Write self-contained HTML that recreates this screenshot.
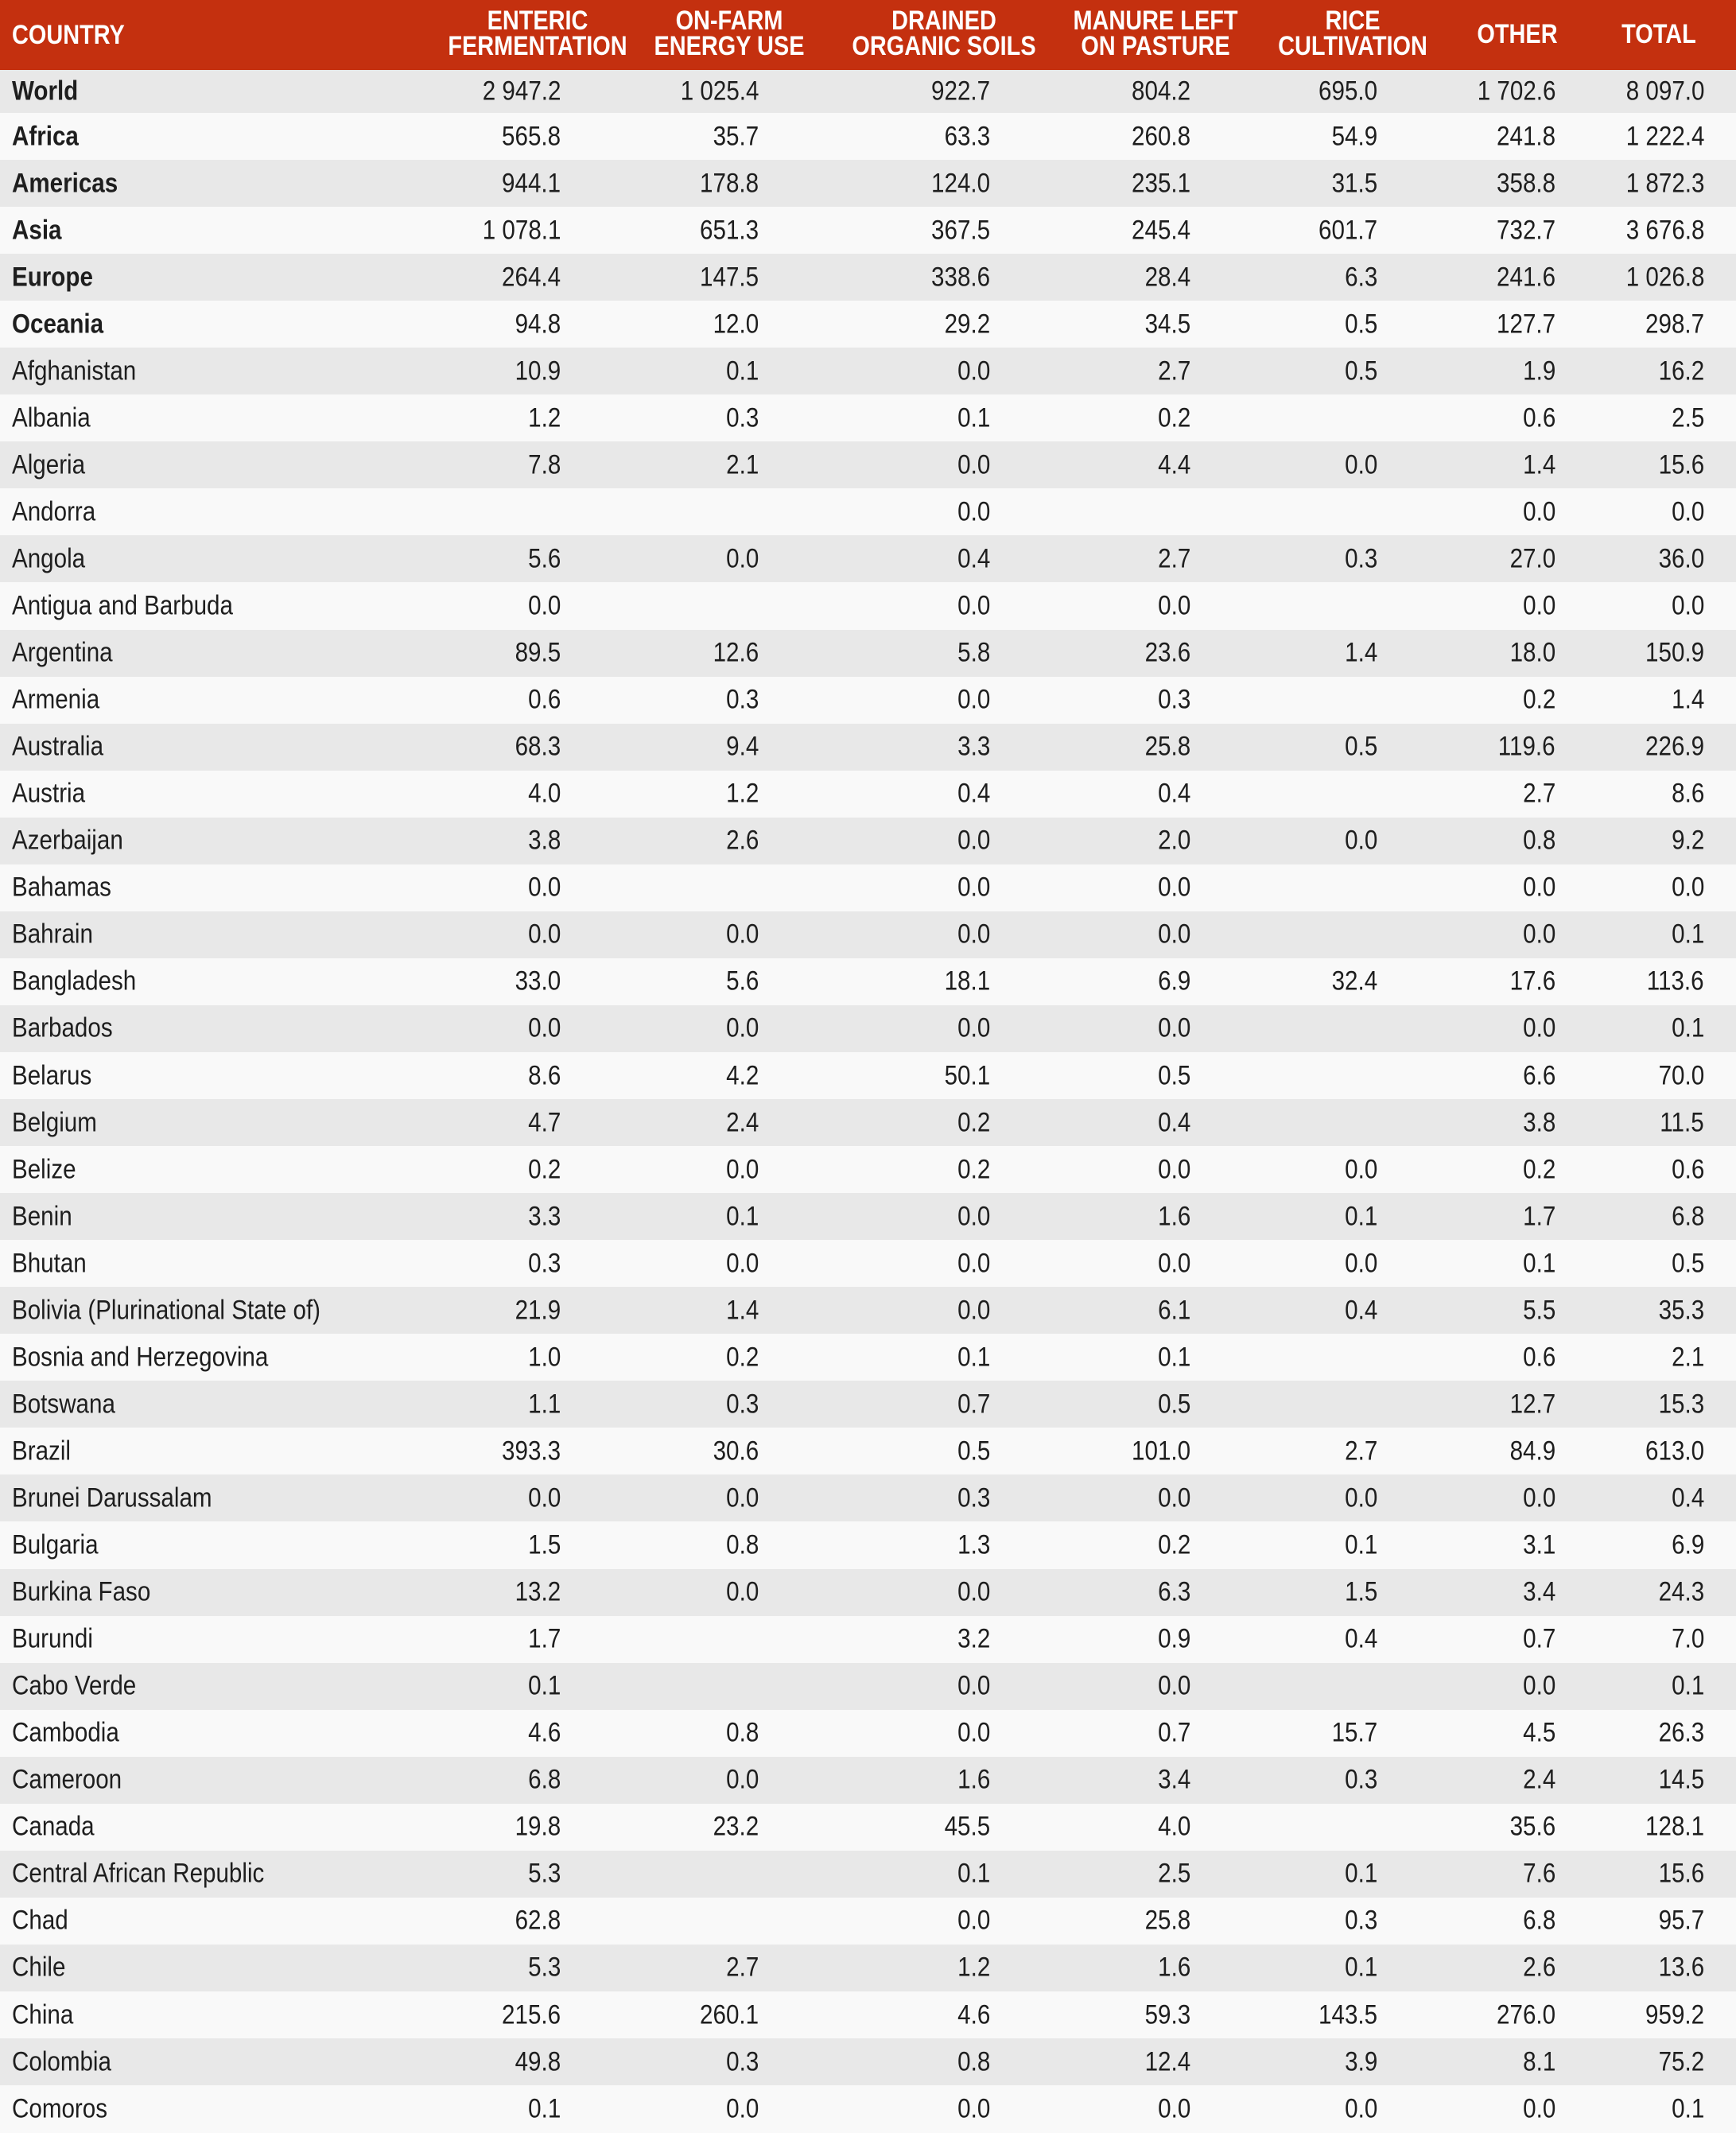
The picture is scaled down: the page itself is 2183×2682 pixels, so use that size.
<!DOCTYPE html>
<html><head><meta charset="utf-8"><style>
*{margin:0;padding:0;box-sizing:border-box}
body{width:2183px;height:2682px;overflow:hidden;background:#f9f9f9;font-family:"Liberation Sans",sans-serif;color:#1e1e1e}
.hd{position:absolute;left:0;top:0;width:2183px;height:88px;background:#c4300f;color:#fff;font-weight:bold;font-size:34px;line-height:32px}
.hd div{position:absolute;text-align:center;white-space:nowrap;transform:scaleX(0.85)}
.r{position:absolute;left:0;width:2183px;font-size:34px}
.g{background:#e8e8e8}
.r span{position:absolute;top:50%;white-space:nowrap}
.r span.c{transform:translateY(-50%) scaleX(0.87);transform-origin:left center}
.r span.n{transform:translateY(-50%) scaleX(0.87);transform-origin:right center}
.b{font-weight:bold}
</style></head><body>
<div class="hd">
<div style="left:15px;top:28px;text-align:left;transform-origin:left center">COUNTRY</div>
<div style="left:526px;width:300px;top:10px">ENTERIC<br>FERMENTATION</div>
<div style="left:767px;width:300px;top:10px">ON-FARM<br>ENERGY USE</div>
<div style="left:1037px;width:300px;top:10px">DRAINED<br>ORGANIC SOILS</div>
<div style="left:1303px;width:300px;top:10px">MANURE LEFT<br>ON PASTURE</div>
<div style="left:1551px;width:300px;top:10px">RICE<br>CULTIVATION</div>
<div style="left:1808px;width:200px;top:27px">OTHER</div>
<div style="left:1986px;width:200px;top:27px">TOTAL</div>
</div>
<div id="t"></div>
<script>
var d=[
["World","2 947.2","1 025.4","922.7","804.2","695.0","1 702.6","8 097.0",1],
["Africa","565.8","35.7","63.3","260.8","54.9","241.8","1 222.4",1],
["Americas","944.1","178.8","124.0","235.1","31.5","358.8","1 872.3",1],
["Asia","1 078.1","651.3","367.5","245.4","601.7","732.7","3 676.8",1],
["Europe","264.4","147.5","338.6","28.4","6.3","241.6","1 026.8",1],
["Oceania","94.8","12.0","29.2","34.5","0.5","127.7","298.7",1],
["Afghanistan","10.9","0.1","0.0","2.7","0.5","1.9","16.2"],
["Albania","1.2","0.3","0.1","0.2","","0.6","2.5"],
["Algeria","7.8","2.1","0.0","4.4","0.0","1.4","15.6"],
["Andorra","","","0.0","","","0.0","0.0"],
["Angola","5.6","0.0","0.4","2.7","0.3","27.0","36.0"],
["Antigua and Barbuda","0.0","","0.0","0.0","","0.0","0.0"],
["Argentina","89.5","12.6","5.8","23.6","1.4","18.0","150.9"],
["Armenia","0.6","0.3","0.0","0.3","","0.2","1.4"],
["Australia","68.3","9.4","3.3","25.8","0.5","119.6","226.9"],
["Austria","4.0","1.2","0.4","0.4","","2.7","8.6"],
["Azerbaijan","3.8","2.6","0.0","2.0","0.0","0.8","9.2"],
["Bahamas","0.0","","0.0","0.0","","0.0","0.0"],
["Bahrain","0.0","0.0","0.0","0.0","","0.0","0.1"],
["Bangladesh","33.0","5.6","18.1","6.9","32.4","17.6","113.6"],
["Barbados","0.0","0.0","0.0","0.0","","0.0","0.1"],
["Belarus","8.6","4.2","50.1","0.5","","6.6","70.0"],
["Belgium","4.7","2.4","0.2","0.4","","3.8","11.5"],
["Belize","0.2","0.0","0.2","0.0","0.0","0.2","0.6"],
["Benin","3.3","0.1","0.0","1.6","0.1","1.7","6.8"],
["Bhutan","0.3","0.0","0.0","0.0","0.0","0.1","0.5"],
["Bolivia (Plurinational State of)","21.9","1.4","0.0","6.1","0.4","5.5","35.3"],
["Bosnia and Herzegovina","1.0","0.2","0.1","0.1","","0.6","2.1"],
["Botswana","1.1","0.3","0.7","0.5","","12.7","15.3"],
["Brazil","393.3","30.6","0.5","101.0","2.7","84.9","613.0"],
["Brunei Darussalam","0.0","0.0","0.3","0.0","0.0","0.0","0.4"],
["Bulgaria","1.5","0.8","1.3","0.2","0.1","3.1","6.9"],
["Burkina Faso","13.2","0.0","0.0","6.3","1.5","3.4","24.3"],
["Burundi","1.7","","3.2","0.9","0.4","0.7","7.0"],
["Cabo Verde","0.1","","0.0","0.0","","0.0","0.1"],
["Cambodia","4.6","0.8","0.0","0.7","15.7","4.5","26.3"],
["Cameroon","6.8","0.0","1.6","3.4","0.3","2.4","14.5"],
["Canada","19.8","23.2","45.5","4.0","","35.6","128.1"],
["Central African Republic","5.3","","0.1","2.5","0.1","7.6","15.6"],
["Chad","62.8","","0.0","25.8","0.3","6.8","95.7"],
["Chile","5.3","2.7","1.2","1.6","0.1","2.6","13.6"],
["China","215.6","260.1","4.6","59.3","143.5","276.0","959.2"],
["Colombia","49.8","0.3","0.8","12.4","3.9","8.1","75.2"],
["Comoros","0.1","0.0","0.0","0.0","0.0","0.0","0.1"]];
var R=[705,954,1245,1497,1732,1956,2143],h="";
for(var i=0;i<d.length;i++){
 var yy=i==0?88:142+(i-1)*59.05,hh=i==0?54:59.05;
 h+='<div class="r'+(i%2==0?' g':'')+'" style="top:'+yy+'px;height:'+hh+'px"><span class="c'+(d[i][8]?' b':'')+'" style="left:15px">'+d[i][0]+'</span>';
 for(var j=0;j<7;j++) if(d[i][j+1]) h+='<span class="n" style="right:'+(2183-R[j])+'px">'+d[i][j+1]+'</span>';
 h+='</div>';
}
document.getElementById('t').innerHTML=h;
</script>
</body></html>
